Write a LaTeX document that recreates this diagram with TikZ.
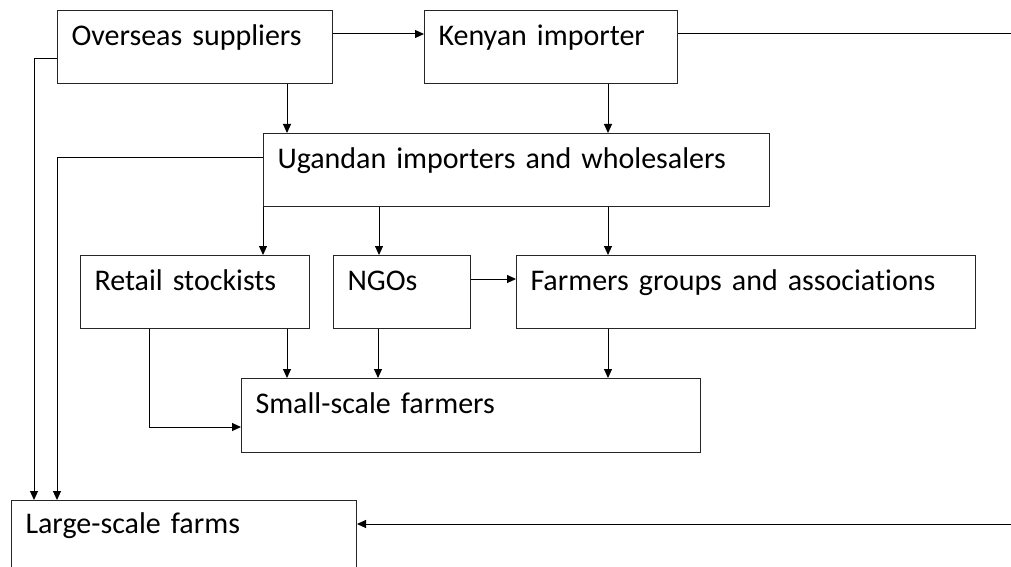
\documentclass[tikz,border=0pt]{standalone}
\usepackage{fontspec}
\setmainfont{Carlito}[Ligatures=NoCommon, WordSpace=0.8]
\usetikzlibrary{arrows.meta,calc}
\begin{document}
\begin{tikzpicture}[x=1pt,y=-1pt,
  line width=1pt,
  box/.style={draw=black!85, anchor=north west, inner xsep=14pt, inner ysep=0pt,
    text height=35pt, text depth=38pt, align=left, font=\fontsize{30}{35}\selectfont},
  arr/.style={-{Triangle[length=9pt,width=8pt]}}]
\useasboundingbox (0,0) rectangle (1011,567);
\clip (0,0) rectangle (1011,567);
\node[box, text width=247pt] (os) at (57,10) {Overseas suppliers};
\node[box, text width=225pt] (ke) at (424,10) {Kenyan importer};
\node[box, text width=478pt] (ug) at (263,133) {Ugandan importers and wholesalers};
\node[box, text width=201pt] (rs) at (80,255) {Retail stockists};
\node[box, text width=109pt] (ngo) at (333,255) {NGOs};
\node[box, text width=431pt] (fg) at (516,255) {Farmers groups and associations};
\node[box, text width=431pt, text depth=39pt] (ss) at (241,378) {Small-scale farmers};
\node[box, text width=317pt, text height=33pt, text depth=45pt] (ls) at (11,500) {Large-scale farms};
\coordinate (kr) at (1011,34);
\coordinate (lr) at (1011,524);
% top row
\draw[arr] ($(os.north east)+(0,24)$) coordinate (t) -- (t -| ke.west);
\draw ($(ke.north east)+(0,24)$) -- (kr);
\draw[arr] (lr) -- (lr -| ls.east);
% left long lines
\draw[arr] ($(os.north west)+(0,49)$) coordinate (t) -| ($(ls.north west)+(23,0)$);
\draw[arr] ($(ug.north west)+(0,24)$) coordinate (t) -| ($(ls.north west)+(46,0)$);
% into Ugandan
\draw[arr] ($(os.south west)+(230,0)$) coordinate (t) -- (t |- ug.north);
\draw[arr] ($(ke.south west)+(184,0)$) coordinate (t) -- (t |- ug.north);
% from Ugandan
\draw[arr] (ug.south west) -- (ug.south west |- rs.north);
\draw[arr] ($(ug.south west)+(116,0)$) coordinate (t) -- (t |- ngo.north);
\draw[arr] ($(ug.south west)+(345,0)$) coordinate (t) -- (t |- fg.north);
\draw[arr] ($(ngo.north east)+(0,24)$) coordinate (t) -- (t -| fg.west);
% into Small-scale
\draw[arr] ($(rs.south west)+(207,0)$) coordinate (t) -- (t |- ss.north);
\draw[arr] ($(ngo.south west)+(45,0)$) coordinate (t) -- (t |- ss.north);
\draw[arr] ($(fg.south west)+(92,0)$) coordinate (t) -- (t |- ss.north);
\draw[arr] ($(rs.south west)+(69,0)$) |- ($(ss.north west)+(0,49)$);
\end{tikzpicture}
\end{document}
